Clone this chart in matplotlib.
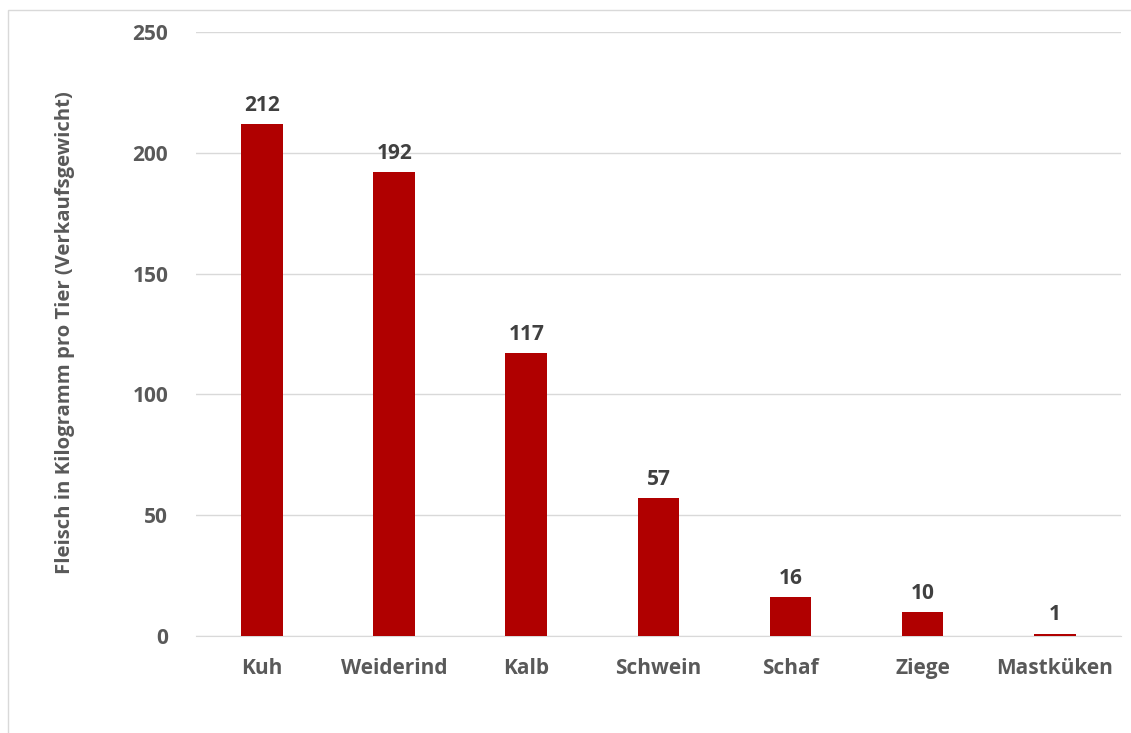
import numpy as np
import matplotlib.pyplot as plt
from matplotlib.patches import Rectangle

# meat per animal (sale weight, kg)
tiere = ["Kuh", "Weiderind", "Kalb", "Schwein", "Schaf", "Ziege", "Mastküken"]
fleisch_kg = [212, 192, 117, 57, 16, 10, 1]
y_ticks = [0, 50, 100, 150, 200, 250]

plt.rcParams['font.family'] = ['Open Sans', 'DejaVu Sans']

fig = plt.figure(figsize=(11.31, 7.33), dpi=100)
ax = fig.add_axes([0.1733, 0.1323, 0.8177, 0.824])

x = np.arange(len(tiere))
ax.bar(x, fleisch_kg, width=0.315, color="#B00000", zorder=3)

# value labels above bars
for xi, v in zip(x, fleisch_kg):
    ax.annotate(str(v), (xi, v), xytext=(0, 6), textcoords="offset points",
                ha="center", va="bottom", fontsize=15, fontweight="bold", color="#404040")

ax.set_xlim(-0.5, len(tiere) - 0.5)
ax.set_ylim(0, 250)
ax.set_yticks(y_ticks)
ax.set_xticks(x)
ax.set_xticklabels(tiere)
ax.grid(axis="y", color="#D9D9D9", linewidth=1, zorder=0)
for s in ["top", "right", "left"]:
    ax.spines[s].set_visible(False)
ax.spines["bottom"].set_color("#D9D9D9")
ax.tick_params(axis="both", length=0, labelsize=15, labelcolor="#595959")
ax.tick_params(axis="y", pad=20)
ax.tick_params(axis="x", pad=16)
for lbl in ax.get_xticklabels() + ax.get_yticklabels():
    lbl.set_fontweight("bold")

fig.text(0.0575, 0.546, "Fleisch in Kilogramm pro Tier (Verkaufsgewicht)", rotation=90,
         ha="center", va="center", fontsize=14.6, fontweight="bold", color="#595959")

# chart frame
fig.patches.append(Rectangle((8 / 1131, -0.05), 1.2, 1 - 10 / 733 + 0.05,
                             transform=fig.transFigure, fill=False,
                             edgecolor="#D9D9D9", linewidth=1))

fig.savefig("out.png", dpi=100)
